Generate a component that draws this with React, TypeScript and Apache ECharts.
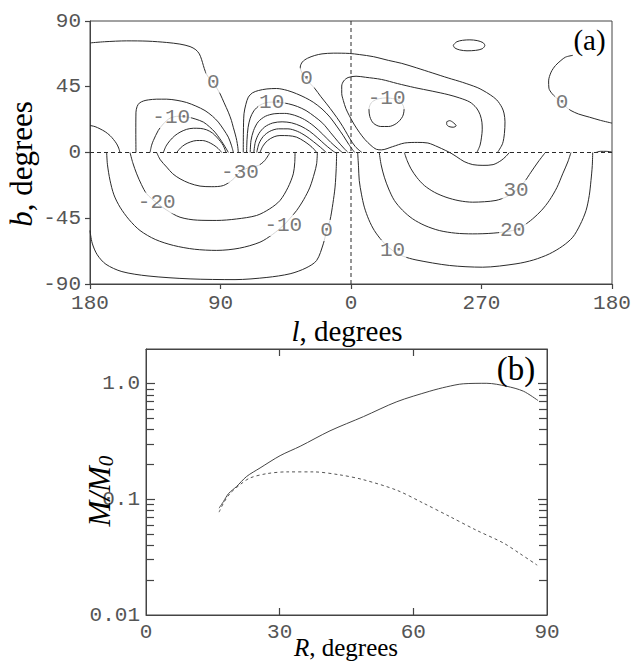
import React, { useEffect, useRef } from 'react';
import * as echarts from 'echarts';

// ---------- Panel (a): contour map. Points are [lonPos, b]; lonPos runs 0..360 left→right (l = 180 … 90 … 0 … 270 … 180)
const lonTickValues = [0, 90, 180, 270, 360];
const lonTickLabels = ['180', '90', '0', '270', '180'];
const latTickValues = [-90, -45, 0, 45, 90];

const T0 = [[0,75],[10,75.8],[25.3,76.4],[40,76.2],[52.9,75.3],[62,74.2],[69,72.5],[73,70.3],[75.4,67.5],[77,63.5],[78.2,59.5],[79.5,55.5],[81.6,51.6],[85.1,48.1],[87.5,44],[89.7,40.2],[92.5,34],[95.4,27.6],[97.5,22],[98.8,17.3],[100.3,12],[101.2,8.2],[101.9,4],[102.3,0]];
const A0 = [[0,18.5],[3.5,17.7],[6.9,16.2],[10.5,14.2],[13.8,11.6],[16.3,8.8],[18.4,5.9],[19.8,3],[20.7,0]];
const L1 = [[31.7,0],[31.6,14],[31.7,27.6],[32.5,31.5],[34,33.8],[37,35.3],[40.2,36],[46,36.5],[52.9,36.5],[60,35.7],[66.7,34.2],[73,31.8],[79.3,28.7],[84.5,24.8],[88.5,20.8],[92.3,15.5],[95.4,10.5],[97.5,5],[98.9,0]];
const L2 = [[41.4,0],[42.5,5],[43.7,8.2],[47.1,15.1],[50.6,19.6],[55.2,23.5],[61,24.8],[67.8,24.2],[73,22.8],[78.2,20.8],[82.5,17.5],[86.2,13.9],[89.5,9.5],[91.9,5.9],[94,2.5],[95.4,0]];
const L3 = [[50.6,0],[52.5,4.5],[55.2,8.2],[58.5,11.5],[62.1,13.9],[66.5,15.8],[71.3,16.6],[76,16.5],[80.5,15.5],[84.5,13.3],[87.4,10.5],[90,7.5],[91.9,4.8],[93,2.2],[93.8,0]];
const L4 = [[59.8,0],[62.3,3],[65.5,5.5],[69.5,7.3],[73.6,8.2],[77.5,8.2],[81.6,7.1],[85,5.3],[87.4,3.6],[89.3,1.8],[90.8,0]];
const R1 = [[105.7,0],[105.8,14],[106.2,26.5],[107.5,33],[109.2,37.9],[112,40.8],[116.1,42.4],[122,43.5],[128.7,43.8],[136,42.5],[142.5,40.2],[148.5,37.5],[154,34.4],[160,29.8],[165.5,24.2],[170.5,17.5],[174.7,11.5],[178.5,5.5],[182.5,0]];
const R2 = [[108,0],[108.3,9],[109,17],[110.5,23.5],[113,28.5],[117,32.3],[121,34],[125.3,34.5],[131,34.3],[137,33.3],[143,31.5],[149,28.7],[155,24.5],[160.5,20],[166,13.5],[171,7.5],[175,3],[178,0]];
const R3 = [[110.5,0],[111,8],[112.8,15],[116,21],[121,24.8],[127,26.5],[134,26.8],[141,25.5],[148,22.5],[154.5,18],[160.5,12.5],[166,7],[170.5,3],[174,0]];
const R4 = [[113,0],[114,7],[116.5,13],[120.5,17.5],[126,20.2],[132.5,21],[139,20.3],[145.5,18],[151.5,14.5],[157,10],[162,5.5],[166,2.2],[169,0]];
const R5 = [[115,0],[116.5,6],[119.5,11],[124,14.5],[130,16.2],[136.5,16.2],[143,14.5],[149,11.2],[154,7.5],[159,3.5],[163,0]];
const R6 = [[117.2,0],[119.3,4.5],[122.5,8.2],[127,10.8],[131,11.6],[137,11.5],[142.5,10.5],[147.5,7.8],[151.7,4.8],[154.5,2.2],[156.3,0]];
const T1 = [[281,0],[284.5,6],[285.8,13],[286.2,21],[285.5,27],[284,31],[280.5,36],[276,39.5],[271,42.5],[267,44.5],[257,48],[247,51],[236,54.5],[225,58],[215,61],[206,63],[195.4,65.6],[186,67],[178.8,67.8],[167.8,68],[160,67.5],[155,66.4],[150,64.5],[146.5,62],[145,58.4],[146.5,54],[149.4,50.4],[152,47],[155.2,43.6],[159,38.5],[163.2,33.3],[168,27],[172.4,20.8],[176,15],[179.3,9.3],[183,4],[187.5,0]];
const B1 = [[266.8,0],[269,5],[270,10.5],[270.5,15.5],[270.3,20.7],[269,26],[266.5,30.5],[262,34.5],[255,37.3],[247,39.6],[236,42],[224,44.4],[212,47.2],[201,50],[190,51.5],[183.5,52.2],[178,51.3],[175,49],[173.6,45.5],[173.6,40.5],[174.7,35.6],[176.5,30],[178.8,25.3],[182,19.5],[185.7,13.9],[189.5,9],[193.8,4.8],[197.5,2.2],[201,1.8],[208.7,4],[217,6.5],[226,6.9],[233,6.5],[240,3.8],[245,1.5],[249,-0.5],[253,-3],[258,-6.2],[264,-8.3],[271,-8.8],[278,-8.3],[283.5,-5.5],[287,-2.5],[289.2,0]];
const LoopM10 = [[204.1,37.4],[212,36.2],[215.5,33],[216.6,29.5],[215.5,24.5],[211.5,20],[206,17.8],[200.5,17.8],[195.5,20],[193,24.5],[192.4,29.5],[194,34],[198,36.5],[204.1,37.4]];
const LoopTiny = [[246,21],[248,21.8],[250.5,20.5],[252.5,18.3],[250.5,17.3],[247.5,17.8],[246,19.3],[246,21]];
const LoopTop = [[250.5,73.5],[253,75.8],[257,76.8],[262,77.1],[267,76.6],[271,75.2],[272.3,73.3],[270.5,71],[266,69.9],[260,69.6],[255,70.2],[251.5,71.6],[250.5,73.5]];
const RR0 = [[333,66.5],[328,65.3],[324.8,63],[321,59.5],[318,55],[316.3,49],[316.5,44],[318.5,40.5],[321.5,37.5],[325.5,34.4],[328.5,31],[331.7,28.7],[337,26.3],[344.4,24.2],[352,22],[360,20.1]];
const RightEdge = [[349,0],[352,0.8],[356,0.8],[360,0.3]];
const LB0 = [[0,-53.4],[1.5,-62],[5,-70],[11,-76.5],[22,-81.5],[40,-84.5],[69,-86.5],[100,-87],[122,-85.5],[138,-83],[149,-79],[156.3,-73.9],[160.9,-62.5],[163.2,-53.4],[165.5,-46.5],[167.5,-35],[169,-23.7],[169.8,-11],[170.1,0]];
const LBm10 = [[11.5,0],[12,-8],[13.8,-19],[16.5,-29],[20.7,-37.4],[27,-46],[34.5,-53.4],[45,-59.5],[57.5,-63.6],[72,-66.2],[87.4,-67],[103,-65.5],[117.2,-61.4],[126,-56],[133.3,-50],[138,-45],[142.5,-39.7],[147.5,-32],[151.7,-23.7],[154.8,-14],[156.3,-7.7],[156.8,0]];
const LBm20 = [[27.6,0],[29.5,-7],[32.2,-14.6],[35.5,-22],[39.1,-28.3],[46,-34.5],[53,-39.5],[62.1,-44.3],[74,-46.3],[87.4,-46.5],[101,-45.5],[114.9,-43.1],[124,-38.5],[131,-32.9],[136.5,-24],[140.2,-14.6],[141.2,-7],[141.4,0]];
const LBm30 = [[46,0],[48.5,-5],[52.9,-10],[57,-14.5],[62.1,-18],[68.5,-21],[75.9,-23],[84,-23.4],[92,-22.6],[98.5,-18.5],[103.4,-13.5],[109,-10.5],[116.1,-8.9],[120.5,-5.5],[124.1,0]];
const LB10 = [[184.6,0],[185.2,-10],[185.7,-19.2],[187.2,-28.5],[189.2,-37.4],[192.3,-46],[196.1,-53.4],[201.5,-60.5],[208.7,-67.1],[216,-71],[224.8,-73.5],[247.8,-77.3],[270.8,-78.5],[293.8,-76.2],[306,-73.5],[316.8,-69.4],[326,-64],[332.9,-58],[338,-49.5],[342.1,-39.7],[344.3,-29.5],[345.5,-19.2],[346.4,-9],[346.7,0]];
const LB20 = [[199.5,0],[200.8,-8.5],[203,-16.9],[206,-25],[209.9,-32.8],[215.5,-39.5],[222.5,-45.4],[231,-50],[240.9,-53.4],[252,-55.2],[263.9,-55.7],[278,-55.2],[291.5,-53.4],[299,-50],[305.3,-45.4],[311.5,-39.5],[316.8,-32.8],[322,-24],[326,-14.6],[329.5,-6.5],[331.7,0]];
const LB30 = [[216.8,0],[218.7,-5.5],[221.4,-11.2],[225.5,-17.2],[230.6,-22.6],[237.5,-27.2],[245.5,-30.6],[254.5,-33],[263.9,-34],[272,-33.7],[280,-32.8],[287.5,-30.2],[293.8,-26],[299.5,-20.2],[304.1,-13.5],[309,-6.5],[314,0]];

const contours = [T0, A0, L1, L2, L3, L4, R1, R2, R3, R4, R5, R6, T1, B1, LoopM10, LoopTiny, LoopTop, RR0, RightEdge, LB0, LBm10, LBm20, LBm30, LB10, LB20, LB30];

const contourLabelPos = [[85.1,48.1],[56,24],[125.3,34.5],[149.4,50.4],[204.6,37],[325.5,34.4],[103.4,-13.5],[46,-34.5],[133.3,-50],[163.2,-53.4],[208.7,-67.1],[291.5,-53.4],[293.8,-26]];
const contourLabelText = ['0','-10','10','0','-10','0','-30','-20','-10','0','10','20','30'];

const equator = [[0,0],[360,0]];
const meridian = [[180,-90],[180,90]];

// ---------- Panel (b): M/M0 vs R (log scale)
const solidR = [16.4,17.4,18.5,20.3,22.6,25.6,30.1,34.6,41.3,48.8,56.3,63.7,67.5,71.2,76.5,80.9,84.7,88.0];
const solidM = [0.084,0.096,0.112,0.129,0.158,0.187,0.239,0.288,0.392,0.52,0.70,0.863,0.942,1.0,1.01,0.953,0.863,0.716];
const dashedR = [16.4,17.4,18.9,21.1,23.3,27.1,31.6,37.5,43.5,48.8,56.3,62.2,68.2,74.2,80.2,83.9,87.8];
const dashedM = [0.0776,0.093,0.113,0.134,0.153,0.167,0.173,0.173,0.163,0.148,0.12,0.093,0.071,0.054,0.042,0.034,0.027];
const logTickValues = [0.01, 0.1, 1];
const logTickLabels = ['0.01', '0.1', '1.0'];
const minorTickValues = [0.02,0.03,0.04,0.05,0.06,0.07,0.08,0.09,0.2,0.3,0.4,0.5,0.6,0.7,0.8,0.9];
const rTickValues = [30, 60];
const R_MIN = 0;
const R_MAX = 90;
const M_MIN = 0.01;
const M_MAX = 2;

const MONO = 'Liberation Mono';
const SERIF = 'Liberation Serif';
const AX = '#444';
const TICK = '#444';
const TXT = '#555';
const LINE = '#2a2a2a';

function textGraphics(): any[] {
  return [
    {
      id: 'tb', type: 'text', x: 21, y: 164, rotation: Math.PI / 2, z: 100,
      style: {
        text: '{i|b}{n|, degrees}', align: 'center', verticalAlign: 'middle',
        rich: {
          i: { fontFamily: SERIF, fontSize: 31, fontStyle: 'italic', fill: '#000' },
          n: { fontFamily: SERIF, fontSize: 31, fill: '#000' },
        },
      },
    },
    {
      id: 'tl', type: 'text', x: 347, y: 331, z: 100,
      style: {
        text: '{i|l}{n|, degrees}', align: 'center', verticalAlign: 'middle',
        rich: {
          i: { fontFamily: SERIF, fontSize: 29, fontStyle: 'italic', fill: '#000' },
          n: { fontFamily: SERIF, fontSize: 29, fill: '#000' },
        },
      },
    },
    {
      id: 'tr', type: 'text', x: 346, y: 647, z: 100,
      style: {
        text: '{i|R}{n|, degrees}', align: 'center', verticalAlign: 'middle',
        rich: {
          i: { fontFamily: SERIF, fontSize: 25, fontStyle: 'italic', fill: '#000' },
          n: { fontFamily: SERIF, fontSize: 25, fill: '#000' },
        },
      },
    },
    {
      id: 'tm', type: 'text', x: 99, y: 491, rotation: Math.PI / 2, z: 100,
      style: {
        text: '{i|M/M}{s|0}', align: 'center', verticalAlign: 'middle',
        rich: {
          i: { fontFamily: SERIF, fontSize: 31, fontStyle: 'italic', fill: '#000', lineHeight: 34, verticalAlign: 'middle' },
          s: { fontFamily: SERIF, fontSize: 21, fontStyle: 'italic', fill: '#000', lineHeight: 34, verticalAlign: 'bottom', padding: [8, 0, 0, 0] },
        },
      },
    },
    {
      id: 'pa', type: 'text', x: 589.5, y: 40, z: 100,
      style: { text: '(a)', align: 'center', verticalAlign: 'middle', fontFamily: SERIF, fontSize: 29, fill: '#000' },
    },
    {
      id: 'pb', type: 'text', x: 516, y: 369, z: 100,
      style: { text: '(b)', align: 'center', verticalAlign: 'middle', fontFamily: SERIF, fontSize: 33, fill: '#000' },
    },
  ];
}

function buildOption(): any {
  const tickLabel = { fontFamily: MONO, fontSize: 21, color: TXT };
  const contourSeries = contours.map((c) => ({
    type: 'line', xAxisIndex: 0, yAxisIndex: 0, data: c, symbol: 'none', showSymbol: false,
    smooth: 0.3, silent: true, z: 3, lineStyle: { color: LINE, width: 1 },
  }));
  const dashSeries = [equator, meridian].map((d) => ({
    type: 'line', xAxisIndex: 0, yAxisIndex: 0, data: d, symbol: 'none', silent: true, z: 4,
    lineStyle: { color: LINE, width: 1, type: [4, 3] },
  }));
  const labelSeries = {
    type: 'scatter', xAxisIndex: 0, yAxisIndex: 0, silent: true, z: 10,
    data: contourLabelPos.map((p, i) => [p[0], p[1], contourLabelText[i]]),
    symbolSize: 1, itemStyle: { color: 'rgba(0,0,0,0)' },
    label: {
      show: true, position: 'inside', formatter: (p: any) => p.value[2],
      fontFamily: MONO, fontSize: 21, color: TXT, backgroundColor: '#fff', padding: [0, 1],
    },
  };
  const logLabel = (v: number) => {
    const e = Math.log10(v);
    const idx = logTickValues.findIndex((t) => Math.abs(Math.log10(t) - e) < 1e-3);
    return idx >= 0 ? logTickLabels[idx] : '';
  };
  const noTick = { show: false };
  return {
    animation: false,
    backgroundColor: '#fff',
    grid: [
      { left: 90, top: 21, width: 522, height: 263, show: true, borderColor: AX, borderWidth: 1, containLabel: false, outerBoundsMode: 'none' },
      { left: 146, top: 349, width: 401, height: 266, show: true, borderColor: AX, borderWidth: 1, containLabel: false, outerBoundsMode: 'none' },
    ],
    xAxis: [
      {
        gridIndex: 0, type: 'value', min: 0, max: 360, interval: 90,
        axisLine: { show: true, onZero: false, lineStyle: { color: AX } },
        axisTick: noTick,
        axisLabel: { ...tickLabel, margin: 9, formatter: (v: number) => lonTickLabels[lonTickValues.indexOf(Math.round(v))] ?? '' },
        splitLine: { show: false },
      },
      {
        gridIndex: 1, type: 'value', min: R_MIN, max: R_MAX, interval: 30,
        axisLine: { show: true, onZero: false, lineStyle: { color: AX } },
        axisTick: noTick,
        axisLabel: { ...tickLabel, margin: 7 },
        splitLine: { show: false },
      },
      {
        gridIndex: 1, type: 'value', position: 'top', min: R_MIN, max: R_MAX, interval: 30,
        axisLine: { show: true, onZero: false, lineStyle: { color: AX } },
        axisTick: noTick, axisLabel: { show: false }, splitLine: { show: false },
      },
    ],
    yAxis: [
      {
        gridIndex: 0, type: 'value', min: -90, max: 90, interval: 45,
        axisLine: { show: true, onZero: false, lineStyle: { color: AX } },
        axisTick: noTick,
        axisLabel: { ...tickLabel, margin: 9 },
        splitLine: { show: false },
      },
      {
        gridIndex: 1, type: 'log', logBase: 10, min: M_MIN, max: M_MAX,
        axisLine: { show: true, onZero: false, lineStyle: { color: AX } },
        axisTick: noTick,
        axisLabel: { ...tickLabel, margin: 6, formatter: logLabel },
        splitLine: { show: false },
      },
      {
        gridIndex: 1, type: 'log', logBase: 10, min: M_MIN, max: M_MAX, position: 'right',
        axisLine: { show: true, onZero: false, lineStyle: { color: AX } },
        axisTick: noTick, axisLabel: { show: false }, splitLine: { show: false },
      },
    ],
    series: [
      ...contourSeries,
      ...dashSeries,
      labelSeries,
      {
        type: 'line', xAxisIndex: 1, yAxisIndex: 1, symbol: 'none', smooth: 0.3, silent: true, z: 3,
        data: solidR.map((r, i) => [r, solidM[i]]),
        lineStyle: { color: '#444', width: 1 },
      },
      {
        type: 'line', xAxisIndex: 1, yAxisIndex: 1, symbol: 'none', smooth: 0.3, silent: true, z: 3,
        data: dashedR.map((r, i) => [r, dashedM[i]]),
        lineStyle: { color: '#555', width: 1, type: [3, 3] },
      },
    ],
    graphic: textGraphics(),
  };
}

// Tick marks placed through the chart's own scales (convertToPixel)
function tickGraphics(chart: any): any[] {
  const out: any[] = [];
  const crisp = (v: number) => Math.round(v - 0.5) + 0.5;
  const seg = (id: string, x1: number, y1: number, x2: number, y2: number) => ({
    id, type: 'line', silent: true, z: 60,
    shape: { x1, y1, x2, y2 }, style: { stroke: TICK, lineWidth: 1.2 },
  });
  const toPx = (xi: number, yi: number, x: number, y: number): number[] | null => {
    try {
      const p = chart.convertToPixel({ xAxisIndex: xi, yAxisIndex: yi }, [x, y]);
      return p && isFinite(p[0]) && isFinite(p[1]) ? p : null;
    } catch (e) {
      return null;
    }
  };
  // panel (a): outward ticks on left and bottom
  latTickValues.forEach((b, i) => {
    const p = toPx(0, 0, 0, b);
    if (p) { const y = crisp(p[1]); out.push(seg('ya' + i, p[0] - 5, y, p[0], y)); }
  });
  lonTickValues.forEach((u, i) => {
    const p = toPx(0, 0, u, -90);
    if (p) { const x = crisp(p[0]); out.push(seg('xa' + i, x, p[1], x, p[1] + 5)); }
  });
  // panel (b): inward ticks on all four sides
  const logAll = [...minorTickValues, ...logTickValues.filter((v) => v > M_MIN)];
  logAll.forEach((v, i) => {
    const major = logTickValues.indexOf(v) >= 0;
    const len = major ? 9 : 8;
    const l = toPx(1, 1, R_MIN, v);
    const r = toPx(1, 1, R_MAX, v);
    if (l) { const y = crisp(l[1]); out.push(seg('yl' + i, l[0], y, l[0] + len, y)); }
    if (r) { const y = crisp(r[1]); out.push(seg('yr' + i, r[0] - len, y, r[0], y)); }
  });
  rTickValues.forEach((rv, i) => {
    const bot = toPx(1, 1, rv, M_MIN);
    const top = toPx(1, 1, rv, M_MAX);
    if (bot) { const x = crisp(bot[0]); out.push(seg('xb' + i, x, bot[1], x, bot[1] - 7)); }
    if (top) { const x = crisp(top[0]); out.push(seg('xt' + i, x, top[1], x, top[1] + 7)); }
  });
  return out;
}

export default function App() {
  const ref = useRef<HTMLDivElement>(null);
  useEffect(() => {
    if (!ref.current) return;
    const chart = echarts.init(ref.current, null, { renderer: 'svg' });
    chart.setOption(buildOption());
    const ticks = tickGraphics(chart);
    chart.setOption({ graphic: [...textGraphics(), ...ticks] });
    return () => chart.dispose();
  }, []);
  return (
    <div
      ref={ref}
      style={{ position: 'fixed', left: 0, top: 0, width: 636, height: 661, background: '#fff' }}
    />
  );
}
